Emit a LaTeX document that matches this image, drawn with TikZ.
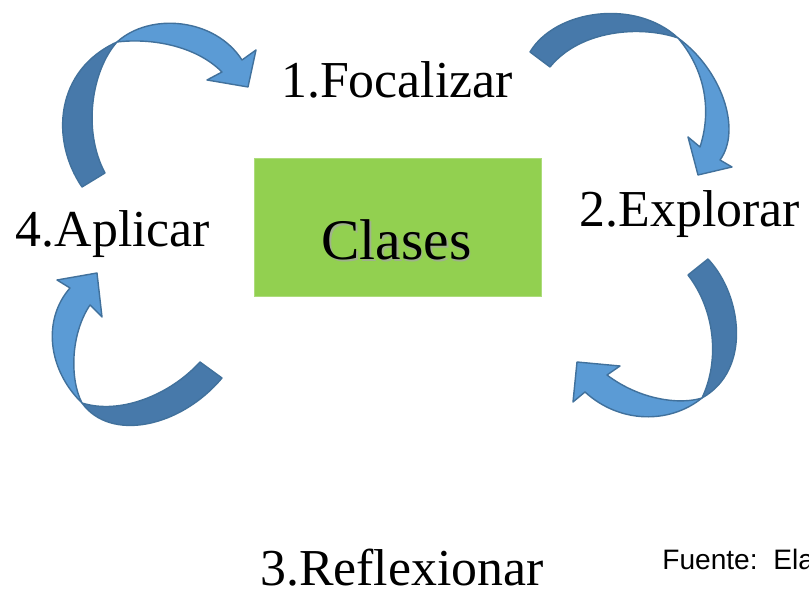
\documentclass[tikz,border=0pt]{standalone}
\usepackage{fontspec}
\setmainfont{Liberation Serif}
\newfontfamily\fuentesans{Liberation Sans}
\usetikzlibrary{positioning}

\definecolor{verdecaja}{RGB}{146,208,80}
\definecolor{azuloscuro}{RGB}{71,121,170}
\definecolor{azulclaro}{RGB}{91,155,213}
\definecolor{azulborde}{RGB}{65,113,156}

\begin{document}
\begin{tikzpicture}[x=0.02cm, y=-0.02cm,
    fase/.style={inner sep=0pt, anchor=base, font=\fontsize{29.5}{35}\selectfont},
    caja/.style={fill=verdecaja, draw=verdecaja!75!white, minimum width=5.74cm, minimum height=2.76cm, inner sep=0pt},
    reverso/.style={fill=azuloscuro, draw=azulborde, line width=0.8pt, line join=round},
    frente/.style={fill=azulclaro, draw=azulborde, line width=0.8pt, line join=round}]
            \useasboundingbox (0,0) rectangle (809,590);

            % Nodos
            \node[caja] (caja) at (397.5,227) {};
            \node[fase, font=\fontsize{32.7}{38}\selectfont, text=black!35, opacity=0.7] (sombra) at (398,261.5) {Clases};
            \node[fase, font=\fontsize{32.7}{38}\selectfont] (clases) at (396.5,260) {Clases};
            \node[fase] (focalizar) at (397,98) {1.Focalizar};
            \node[fase] (explorar) at (690,227) {2.Explorar};
            \node[fase] (reflexionar) at (402,586) {3.Reflexionar};
            \node[fase] (aplicar) at (113,247) {4.Aplicar};
            \node[inner sep=0pt, anchor=base west, font=\fuentesans\fontsize{16}{19}\selectfont] (fuente) at (662,570) {Fuente:\ \ Ela};

            % Flechas
            % 4 -> 1
            \filldraw[reverso] (82,187) .. controls (50,140) and (55,70) .. (117,42)
                .. controls (92,70) and (82,130) .. (105,173) -- cycle;
            \filldraw[frente] (117,42) .. controls (150,12) and (215,18) .. (242,60)
                -- (256,50) -- (248,87) -- (207,80) -- (222,72)
                .. controls (195,45) and (150,38) .. (117,42) -- cycle;
            % 1 -> 2
            \filldraw[reverso] (530,52) .. controls (555,10) and (635,-2) .. (678,38)
                .. controls (640,25) and (580,30) .. (550,67) -- cycle;
            \filldraw[frente] (678,38) .. controls (722,70) and (742,130) .. (720,160)
                -- (732,167) -- (698,175) -- (688,137) -- (700,147)
                .. controls (712,110) and (705,70) .. (678,38) -- cycle;
            % 2 -> 3
            \filldraw[reverso] (708,259) .. controls (742,295) and (752,370) .. (702,398)
                .. controls (720,360) and (715,310) .. (688,275) -- cycle;
            \filldraw[frente] (702,398) .. controls (670,424) and (620,424) .. (585,392)
                -- (573,402) -- (577,362) -- (620,366) -- (607,375)
                .. controls (640,400) and (680,405) .. (702,398) -- cycle;
            % 3 -> 4
            \filldraw[reverso] (222,378) .. controls (180,428) and (110,442) .. (82,403)
                .. controls (120,415) and (170,395) .. (200,362) -- cycle;
            \filldraw[frente] (82,403) .. controls (48,370) and (42,320) .. (70,288)
                -- (57,280) -- (97,273) -- (102,317) -- (90,305)
                .. controls (70,335) and (70,380) .. (82,403) -- cycle;
\end{tikzpicture}
\end{document}
